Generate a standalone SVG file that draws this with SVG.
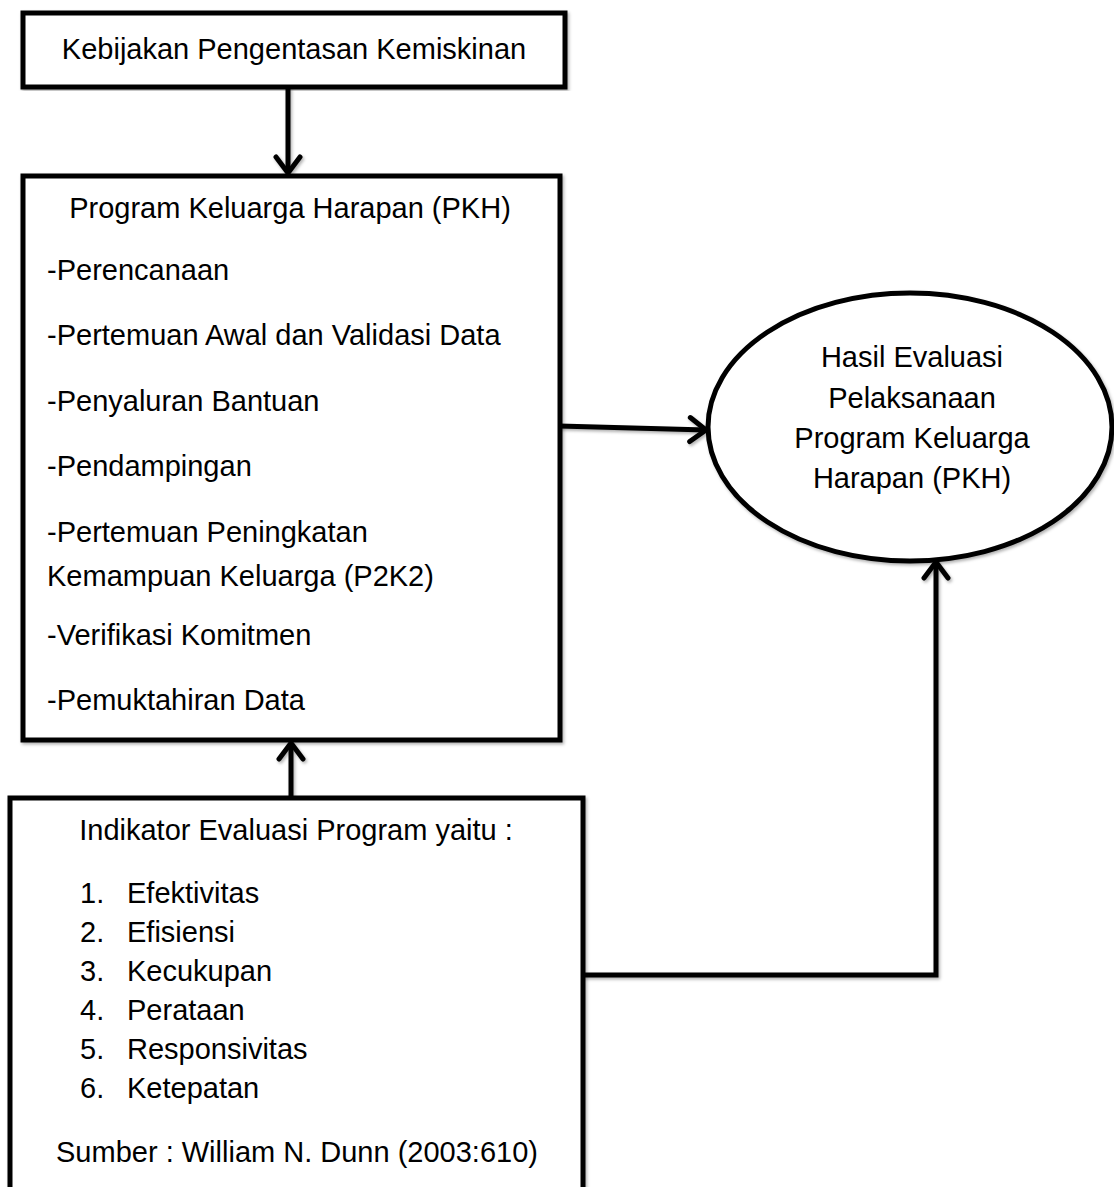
<svg xmlns="http://www.w3.org/2000/svg" width="1114" height="1187" viewBox="0 0 1114 1187">
<style>
.box{fill:#fff;stroke:#000;stroke-width:5;filter:url(#sh)}
.t{font-family:"Liberation Sans",Arial,sans-serif;font-size:29px;fill:#000}
.c{text-anchor:middle}
.ln{fill:none;stroke:#000;stroke-width:5;stroke-linejoin:miter}
</style>
<defs>
<filter id="sh" x="-5%" y="-5%" width="110%" height="110%">
<feDropShadow dx="1.5" dy="2" stdDeviation="1.5" flood-color="#000" flood-opacity="0.3"/>
</filter>
<marker id="arr" viewBox="0 0 22 30" refX="19" refY="15" markerWidth="22" markerHeight="30" markerUnits="userSpaceOnUse" orient="auto">
<path d="M3,3 L19,15 L3,27" fill="none" stroke="#000" stroke-width="5" stroke-linecap="round" stroke-linejoin="round"/>
</marker>
</defs>
<rect width="1114" height="1187" fill="#fff"/>
<g id="connectors" filter="url(#sh)">
<line class="ln" x1="288" y1="87" x2="288" y2="173" marker-end="url(#arr)"/>
<line class="ln" x1="559" y1="426" x2="706" y2="430" marker-end="url(#arr)"/>
<line class="ln" x1="291" y1="797" x2="291" y2="743" marker-end="url(#arr)"/>
<polyline class="ln" points="583,975 936,975 936,562" marker-end="url(#arr)"/>
</g>
<g id="node-kebijakan">
<rect class="box" x="23" y="13" width="542" height="74"/>
<text class="t c" x="294" y="59">Kebijakan Pengentasan Kemiskinan</text>
</g>
<g id="node-pkh">
<rect class="box" x="23" y="176" width="537" height="564"/>
<text class="t c" x="290" y="218">Program Keluarga Harapan (PKH)</text>
<text class="t" x="47" y="280">-Perencanaan</text>
<text class="t" x="47" y="345">-Pertemuan Awal dan Validasi Data</text>
<text class="t" x="47" y="411">-Penyaluran Bantuan</text>
<text class="t" x="47" y="476">-Pendampingan</text>
<text class="t" x="47" y="542">-Pertemuan Peningkatan</text>
<text class="t" x="47" y="586">Kemampuan Keluarga (P2K2)</text>
<text class="t" x="47" y="645">-Verifikasi Komitmen</text>
<text class="t" x="47" y="710">-Pemuktahiran Data</text>
</g>
<g id="node-hasil">
<ellipse class="box" cx="910" cy="427" rx="202" ry="134"/>
<text class="t c" x="912" y="367">Hasil Evaluasi</text>
<text class="t c" x="912" y="408">Pelaksanaan</text>
<text class="t c" x="912" y="448">Program Keluarga</text>
<text class="t c" x="912" y="488">Harapan (PKH)</text>
</g>
<g id="node-indikator">
<rect class="box" x="10" y="798" width="573" height="430"/>
<text class="t c" x="296" y="840">Indikator Evaluasi Program yaitu :</text>
<text class="t" x="80" y="903">1.</text><text class="t" x="127" y="903">Efektivitas</text>
<text class="t" x="80" y="942">2.</text><text class="t" x="127" y="942">Efisiensi</text>
<text class="t" x="80" y="981">3.</text><text class="t" x="127" y="981">Kecukupan</text>
<text class="t" x="80" y="1020">4.</text><text class="t" x="127" y="1020">Perataan</text>
<text class="t" x="80" y="1059">5.</text><text class="t" x="127" y="1059">Responsivitas</text>
<text class="t" x="80" y="1098">6.</text><text class="t" x="127" y="1098">Ketepatan</text>
<text class="t c" x="297" y="1162">Sumber : William N. Dunn (2003:610)</text>
</g>
</svg>
